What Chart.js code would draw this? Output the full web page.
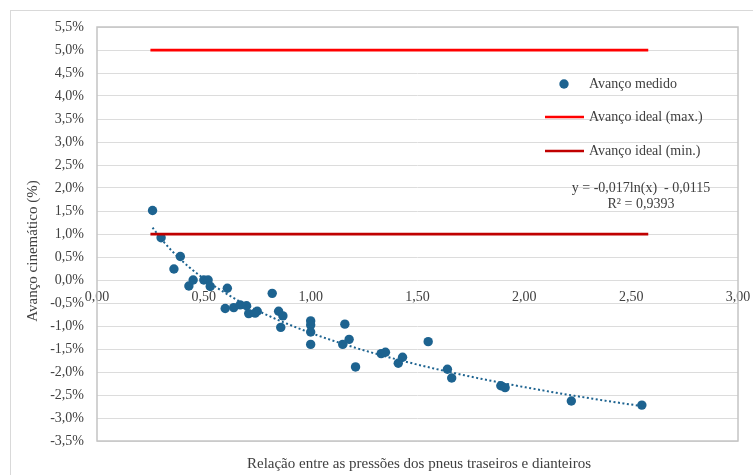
<!DOCTYPE html>
<html>
<head>
<meta charset="utf-8">
<script src="https://cdn.jsdelivr.net/npm/chart.js@4/dist/chart.umd.min.js"></script>
<style>
  html, body { margin: 0; padding: 0; background: #ffffff; overflow: hidden; }
  #wrap { position: relative; width: 753px; height: 475px; }
</style>
</head>
<body>
<div id="wrap"><canvas id="chart" width="753" height="475"></canvas></div>
<script>
// Relação entre as pressões dos pneus (traseiros / dianteiros) — eixo X
const pressureRatio = [
  0.26, 0.30, 0.36, 0.39, 0.43, 0.45, 0.50, 0.52, 0.53, 0.61,
  0.60, 0.64, 0.67, 0.70, 0.71, 0.74, 0.75, 0.82, 0.85, 0.87,
  0.86, 1.00, 1.00, 1.00, 1.00, 1.16, 1.18, 1.15, 1.21, 1.33,
  1.35, 1.55, 1.43, 1.41, 1.64, 1.66, 1.89, 1.91, 2.22, 2.55
];
// Avanço cinemático medido (%)
const advanceMeasured = [
  1.51, 0.92, 0.24, 0.51, -0.13, 0.00, 0.00, 0.00, -0.14, -0.18,
  -0.62, -0.60, -0.54, -0.56, -0.73, -0.72, -0.68, -0.29, -0.68, -0.78,
  -1.03, -0.89, -0.98, -1.13, -1.40, -0.96, -1.29, -1.40, -1.89, -1.60,
  -1.57, -1.34, -1.68, -1.81, -1.94, -2.13, -2.30, -2.34, -2.63, -2.72
];
// Faixa ideal do avanço (%)
const idealRatio = [0.25, 2.58];
const idealMax = [5.0, 5.0];
const idealMin = [1.0, 1.0];
// Linha de tendência logarítmica: y = a·ln(x) + b (fração)
const trendA = -0.017;
const trendB = -0.0115;
const trendR2 = '0,9393';
// Escalas
const yRange = [-3.5, 5.5, 0.5];
const xRange = [0, 3, 0.5];

const SERIF = '"Liberation Serif", "Times New Roman", serif';
const BLUE = '#1d6390';
const TEXT = '#404040';

const measuredPts = pressureRatio.map((x, i) => ({ x, y: advanceMeasured[i] }));
const maxPts = idealRatio.map((x, i) => ({ x, y: idealMax[i] }));
const minPts = idealRatio.map((x, i) => ({ x, y: idealMin[i] }));

// Curve of the fitted trend over the measured range
const xLo = Math.min(...pressureRatio), xHi = Math.max(...pressureRatio);
const trendPts = [];
for (let k = 0; k <= 80; k++) {
  const x = xLo + (xHi - xLo) * k / 80;
  trendPts.push({ x, y: (trendA * Math.log(x) + trendB) * 100 });
}

const comma = (v, d) => v.toFixed(d).replace('.', ',');

const decorations = {
  id: 'decorations',
  beforeDraw(chart) {
    const { ctx } = chart;
    ctx.save();
    ctx.strokeStyle = '#d9d9d9';
    ctx.lineWidth = 1;
    ctx.strokeRect(10.5, 10.5, 800, 800);
    ctx.restore();
  },
  beforeDatasetsDraw(chart) {
    const { ctx, chartArea: a } = chart;
    ctx.save();
    ctx.strokeStyle = '#c4c4c4';
    ctx.lineWidth = 1.5;
    ctx.strokeRect(a.left, a.top, a.right - a.left, a.bottom - a.top);
    ctx.restore();
  },
  afterDraw(chart) {
    const { ctx } = chart;
    const ds = chart.data.datasets;
    ctx.save();
    ctx.fillStyle = TEXT;
    ctx.font = '14px ' + SERIF;
    ctx.textBaseline = 'middle';

    // Legend
    ctx.textAlign = 'left';
    ctx.beginPath();
    ctx.arc(564, 84, 4.7, 0, Math.PI * 2);
    ctx.fillStyle = ds[0].backgroundColor;
    ctx.fill();
    ctx.fillStyle = TEXT;
    ctx.fillText(ds[0].label, 589, 84);
    [[2, 117], [3, 151]].forEach(([i, y]) => {
      ctx.strokeStyle = ds[i].borderColor;
      ctx.lineWidth = 2.5;
      ctx.beginPath();
      ctx.moveTo(545, y);
      ctx.lineTo(584, y);
      ctx.stroke();
      ctx.fillText(ds[i].label, 589, y);
    });

    // Trend equation
    ctx.textAlign = 'center';
    ctx.fillText('y = ' + comma(trendA, 3) + 'ln(x)  - ' + comma(Math.abs(trendB), 4), 641, 188);
    ctx.fillText('R² = ' + trendR2, 641, 204);

    // Axis titles
    ctx.font = '15px ' + SERIF;
    ctx.fillText('Relação entre as pressões dos pneus traseiros e dianteiros', 419, 464);
    ctx.translate(33, 251);
    ctx.rotate(-Math.PI / 2);
    ctx.fillText('Avanço cinemático (%)', 0, 0);
    ctx.restore();
  }
};

new Chart(document.getElementById('chart'), {
  type: 'scatter',
  data: {
    datasets: [
      {
        label: 'Avanço medido',
        data: measuredPts,
        backgroundColor: BLUE,
        borderWidth: 0,
        pointRadius: 4.7,
        pointHoverRadius: 4.7,
        order: 3
      },
      {
        label: 'Log. (Avanço medido)',
        type: 'line',
        data: trendPts,
        borderColor: BLUE,
        borderWidth: 2,
        borderDash: [2, 2.5],
        pointRadius: 0,
        fill: false,
        tension: 0,
        order: 2
      },
      {
        label: 'Avanço ideal (max.)',
        type: 'line',
        data: maxPts,
        borderColor: '#ff0000',
        borderWidth: 2.75,
        pointRadius: 0,
        fill: false,
        order: 1
      },
      {
        label: 'Avanço ideal (min.)',
        type: 'line',
        data: minPts,
        borderColor: '#c00000',
        borderWidth: 2.75,
        pointRadius: 0,
        fill: false,
        order: 0
      }
    ]
  },
  options: {
    responsive: false,
    animation: false,
    devicePixelRatio: 1,
    layout: { padding: { left: 0, top: 27, right: 15, bottom: 34 } },
    plugins: { legend: { display: false }, tooltip: { enabled: false } },
    scales: {
      x: {
        type: 'linear',
        position: { y: 0 },
        min: xRange[0], max: xRange[1],
        afterFit: s => { s.paddingLeft = 0; s.paddingRight = 0; },
        grid: { display: false, drawTicks: false },
        border: { display: false },
        ticks: {
          stepSize: xRange[2],
          padding: 9,
          color: TEXT,
          font: { family: SERIF, size: 14 },
          callback: v => comma(v, 2)
        }
      },
      y: {
        type: 'linear',
        min: yRange[0], max: yRange[1],
        afterFit: s => { s.width = 97; },
        grid: { color: '#dcdcdc', lineWidth: 1, drawTicks: false },
        border: { display: false },
        ticks: {
          stepSize: yRange[2],
          padding: 13,
          color: TEXT,
          font: { family: SERIF, size: 14 },
          callback: v => comma(v, 1) + '%'
        }
      }
    }
  },
  plugins: [decorations]
});
</script>
</body>
</html>
